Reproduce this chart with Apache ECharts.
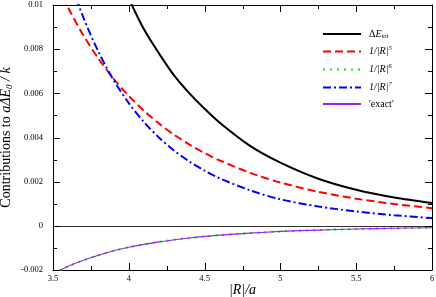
<!DOCTYPE html>
<html><head><meta charset="utf-8">
<script src="https://cdn.jsdelivr.net/npm/echarts@6/dist/echarts.min.js"></script>
<style>html,body{margin:0;padding:0;background:#fff}#c{width:436px;height:297px}</style>
</head><body><div id="c"></div>
<script>
const xTicks = [3.5, 4, 4.5, 5, 5.5, 6];
const yTicks = [-0.002, 0, 0.002, 0.004, 0.006, 0.008, 0.01];
const xs = [3.5,3.6,3.7,3.8,3.9,4.0,4.1,4.2,4.3,4.4,4.5,4.6,4.8,5.0,5.25,5.5,5.75,6.0];
const eTot  = [0.022,0.0187,0.016,0.0138,0.0119,0.0103,0.0089,0.0078,0.0068,0.0060,0.0053,0.00467,0.00362,0.00286,0.00213,0.00163,0.00128,0.00103];
const r5    = [0.01135,0.00988,0.00863,0.00757,0.00666,0.00588,0.00521,0.00463,0.00412,0.00368,0.00329,0.00296,0.0024,0.00196,0.00154,0.00123,0.00099,0.0008];
const r6    = [-0.00217,-0.00183,-0.00156,-0.00133,-0.00113,-0.00097,-0.00084,-0.00073,-0.00063,-0.00055,-0.00048,-0.00042,-0.00033,-0.000255,-0.00019,-0.000144,-0.00011,-0.000086];
const r7    = [0.01378,0.01138,0.00944,0.00788,0.0066,0.00556,0.0047,0.00399,0.0034,0.00291,0.0025,0.00215,0.00161,0.0012,0.00088,0.00065,0.00048,0.00035];
const exact = [-0.00217,-0.00183,-0.00156,-0.00133,-0.00113,-0.00097,-0.00084,-0.00073,-0.00063,-0.00055,-0.00048,-0.00042,-0.00033,-0.000255,-0.00019,-0.000144,-0.00011,-0.000086];
const names = ['dEtot','r5','r6','r7','exact'];
const legendRich = {
  dEtot: '{n|Δ}{i|E}{sub|tot}',
  r5: '{i|1/|R|}{sup|5}',
  r6: '{i|1/|R|}{sup|6}',
  r7: '{i|1/|R|}{sup|7}',
  exact: "{n|'exact'}"
};
const F = 'Liberation Serif';
const pairs = v => xs.map((x, i) => [x, v[i]]);
const chart = echarts.init(document.getElementById('c'), null, {renderer: 'canvas'});
const xMin = xTicks[0], xMax = xTicks[xTicks.length-1], xInt = xTicks[1]-xTicks[0];
const yMin = yTicks[0], yMax = yTicks[yTicks.length-1], yInt = yTicks[1]-yTicks[0];

// tick marks (major + minor midpoints) drawn through the axis scales
const tickData = [];
xTicks.forEach((v, i) => {
  tickData.push([v, yMin, 1, 0]);
  if (i < xTicks.length - 1) tickData.push([(v + xTicks[i+1]) / 2, yMin, 0, 0]);
});
yTicks.forEach((v, i) => {
  tickData.push([xMin, v, 1, 1]);
  if (i < yTicks.length - 1) tickData.push([xMin, (v + yTicks[i+1]) / 2, 0, 1]);
});
function tickLine(x1, y1, x2, y2) {
  return {type: 'line', shape: {x1, y1, x2, y2}, style: {stroke: '#000', lineWidth: 1}, silent: true};
}
function renderTick(params, api) {
  const major = api.value(2), kind = api.value(3);
  const L = major ? 7 : 4;
  if (kind === 0) {
    const v = api.value(0);
    const b = api.coord([v, yMin]), t = api.coord([v, yMax]);
    const px = Math.round(b[0]) + 0.5;
    return {type: 'group', children: [tickLine(px, b[1], px, b[1] - L), tickLine(px, t[1], px, t[1] + L)]};
  }
  const v = api.value(1);
  const l = api.coord([xMin, v]), r = api.coord([xMax, v]);
  const py = Math.round(l[1]) + 0.5;
  return {type: 'group', children: [tickLine(l[0], py, l[0] + L, py), tickLine(r[0], py, r[0] - L, py)]};
}

function axisCommon() {
  return {
    axisLine: {show: true, onZero: false, lineStyle: {color: '#000', width: 1}},
    axisTick: {show: false},
    minorTick: {show: false},
    splitLine: {show: false},
    minorSplitLine: {show: false}
  };
}
function mkSeries(name, data, color, width, type, z) {
  return {name, type: 'line', data: pairs(data), smooth: 0.3, symbol: 'none', showSymbol: false,
    lineStyle: {color, width, type}, itemStyle: {color}, z, clip: true};
}
const series = [
  mkSeries('dEtot', eTot, '#000000', 2, 'solid', 5),
  mkSeries('r5', r5, '#ff0000', 2, [8,4], 5),
  mkSeries('r6', r6, '#00ee00', 2, [2,5], 4),
  mkSeries('r7', r7, '#0000ff', 2, [8,3,2,3], 5),
  mkSeries('exact', exact, '#a020f0', 1.2, 'solid', 6),
  {name: 'ticks', type: 'custom', data: tickData, encode: {x: 0, y: 1}, renderItem: renderTick,
   silent: true, clip: false, z: 7, tooltip: {show: false}}
];
series[0].markLine = {silent: true, symbol: 'none', label: {show: false},
  lineStyle: {color: '#333', width: 1, type: 'solid'}, data: [{yAxis: 0}]};
chart.setOption({
  animation: false,
  backgroundColor: '#fff',
  grid: {left: 53, top: 5, right: 4, bottom: 27, outerBoundsMode: 'none'},
  legend: {
    orient: 'vertical', left: 317, top: 23, itemWidth: 38, itemHeight: 10, itemGap: 5,
    selectedMode: false, data: names,
    itemStyle: {opacity: 0},
    formatter: n => legendRich[n],
    textStyle: {fontFamily: F, fontSize: 10, color: '#000', padding: [0,0,0,3],
      rich: {
        n: {fontFamily: F, fontSize: 10, lineHeight: 10, color: '#000'},
        i: {fontFamily: F, fontSize: 10, lineHeight: 10, fontStyle: 'italic', color: '#000'},
        sub: {fontFamily: F, fontSize: 6.5, lineHeight: 6.5, fontStyle: 'italic', color: '#000', padding: [5,0,0,0]},
        sup: {fontFamily: F, fontSize: 6.5, lineHeight: 6.5, fontStyle: 'italic', color: '#000', padding: [0,0,6,0]}
      }}
  },
  xAxis: [
    Object.assign({type: 'value', min: xMin, max: xMax, interval: xInt, position: 'bottom',
      name: '|R|/a', nameLocation: 'middle', nameGap: 13, nameMoveOverlap: false,
      nameTextStyle: {fontFamily: F, fontSize: 14, fontStyle: 'italic', color: '#000'},
      axisLabel: {fontFamily: F, fontSize: 8.5, color: '#000', margin: 4, showMinLabel: true, showMaxLabel: true}}, axisCommon()),
    Object.assign({type: 'value', min: xMin, max: xMax, interval: xInt, position: 'top',
      axisLabel: {show: false}}, axisCommon())
  ],
  yAxis: [
    Object.assign({type: 'value', min: yMin, max: yMax, interval: yInt, position: 'left',
      name: '{n|Contributions to }{i|aΔE}{sub|0}{i| / k}', nameLocation: 'middle', nameGap: 40, nameRotate: 90, nameMoveOverlap: false,
      nameTextStyle: {fontFamily: F, fontSize: 14, color: '#000',
        rich: {
          n: {fontFamily: F, fontSize: 14, lineHeight: 14, color: '#000'},
          i: {fontFamily: F, fontSize: 14, lineHeight: 14, fontStyle: 'italic', color: '#000'},
          sub: {fontFamily: F, fontSize: 9, lineHeight: 9, fontStyle: 'italic', color: '#000', padding: [7,0,0,0]}
        }},
      axisLabel: {fontFamily: F, fontSize: 8.5, color: '#000', margin: 10, showMinLabel: true, showMaxLabel: true,
        formatter: v => String(Math.round(v * 1000) / 1000)}}, axisCommon()),
    Object.assign({type: 'value', min: yMin, max: yMax, interval: yInt, position: 'right',
      axisLabel: {show: false}}, axisCommon())
  ],
  series
});
</script></body></html>
